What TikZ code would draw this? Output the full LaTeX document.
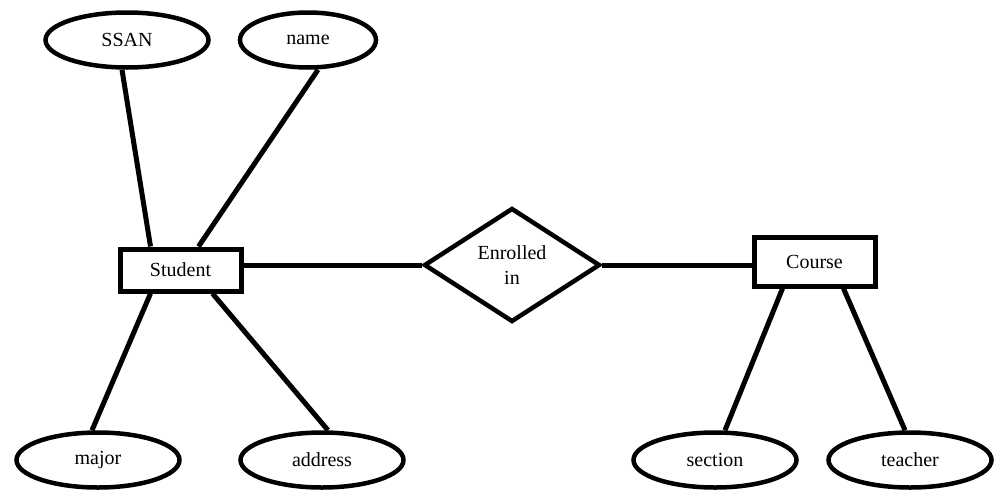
\documentclass[tikz,border=0pt]{standalone}
\usepackage{fontspec}
\setmainfont{Liberation Serif}
\usetikzlibrary{shapes.geometric,calc}
\begin{document}
\begin{tikzpicture}[x=1pt,y=-1pt,
  every node/.style={font=\fontsize{20}{25}\selectfont},
  attr/.style={draw,ellipse,line width=4.5pt,minimum width=163pt,minimum height=55pt,inner sep=0pt},
  entity/.style={draw,rectangle,line width=5pt,minimum width=121pt,inner sep=0pt},
  rel/.style={draw,diamond,line width=4.5pt,minimum width=176pt,minimum height=114pt,inner sep=0pt,aspect=1.55,align=center},
  conn/.style={line width=5pt}]
\useasboundingbox (0,0) rectangle (995,490);
\node[attr] (ssan) at (127,40) {SSAN};
\node[attr,minimum width=136pt] (name) at (308,40) {name};
\node[attr] (major) at (98,460) {major};
\node[attr] (address) at (322,460) {address};
\node[attr] (section) at (715,460) {section};
\node[attr] (teacher) at (910,460) {teacher};
\node[entity,minimum height=42pt] (student) at (180.5,270) {Student};
\node[entity,minimum height=49pt] (course) at (814.5,261.5) {Course};
\node[rel] (enr) at (512,265) {Enrolled\\in};
\draw[conn] ([xshift=-5pt]ssan.south) -- ([xshift=-30pt]student.north);
\draw[conn] ([xshift=10pt]name.south) -- ([xshift=18pt]student.north);
\draw[conn] ([xshift=-30pt]student.south) -- ([xshift=-6pt]major.north);
\draw[conn] ([xshift=32pt]student.south) -- ([xshift=6pt]address.north);
\draw[conn] (enr.west -| student.east) -- (enr.west);
\draw[conn] (enr.east) -- (enr.east -| course.west);
\draw[conn] ([xshift=-32pt]course.south) -- ([xshift=10pt]section.north);
\draw[conn] ([xshift=29pt]course.south) -- ([xshift=-5pt]teacher.north);
\end{tikzpicture}
\end{document}
